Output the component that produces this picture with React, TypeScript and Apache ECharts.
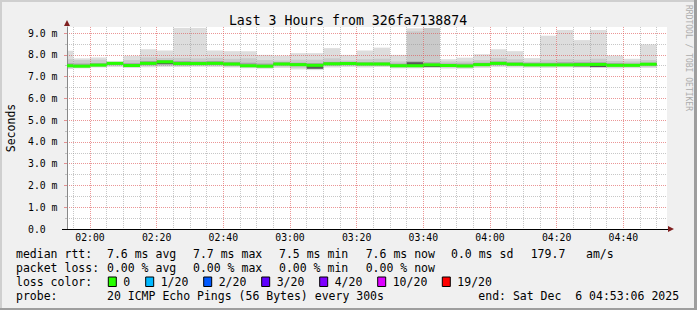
import React, { useEffect, useRef } from 'react';
import * as echarts from 'echarts';

// ---- data ----
const columnEnds = ['01:55','02:00','02:05','02:10','02:15','02:20','02:25','02:30','02:35','02:40','02:45','02:50','02:55',
  '03:00','03:05','03:10','03:15','03:20','03:25','03:30','03:35','03:40','03:45','03:50','03:55',
  '04:00','04:05','04:10','04:15','04:20','04:25','04:30','04:35','04:40','04:45','04:50'];

const medianRtt = [7.50,7.48,7.53,7.61,7.51,7.61,7.68,7.60,7.60,7.61,7.58,7.50,7.48,7.58,7.55,7.52,7.59,7.60,
  7.58,7.58,7.50,7.50,7.54,7.51,7.49,7.55,7.61,7.57,7.54,7.54,7.54,7.55,7.56,7.52,7.52,7.57];
const smokeMin = [7.35,7.38,7.42,7.44,7.40,7.43,7.45,7.44,7.45,7.44,7.42,7.38,7.36,7.40,7.33,7.30,7.42,7.44,
  7.42,7.44,7.38,7.38,7.40,7.37,7.36,7.40,7.44,7.42,7.41,7.40,7.42,7.41,7.40,7.38,7.39,7.40];
const smokeLo2 = [7.40,7.42,7.45,7.50,7.44,7.48,7.50,7.48,7.50,7.50,7.46,7.42,7.40,7.46,7.40,7.36,7.48,7.50,
  7.48,7.48,7.42,7.43,7.45,7.42,7.41,7.46,7.50,7.48,7.46,7.46,7.47,7.46,7.46,7.43,7.44,7.45];
const smokeLo4 = [7.44,7.44,7.48,7.54,7.47,7.53,7.54,7.53,7.54,7.54,7.51,7.45,7.43,7.51,7.48,7.40,7.52,7.54,
  7.52,7.52,7.45,7.46,7.49,7.46,7.44,7.50,7.54,7.52,7.50,7.50,7.51,7.50,7.48,7.47,7.47,7.51];
const smokeLo8 = [7.47,7.45,7.50,7.57,7.48,7.57,7.58,7.56,7.56,7.57,7.54,7.47,7.45,7.54,7.51,7.36,7.55,7.56,
  7.55,7.55,7.47,7.47,7.44,7.48,7.46,7.52,7.57,7.54,7.51,7.51,7.51,7.47,7.44,7.49,7.49,7.54];
const smokeHi8 = [7.54,7.52,7.57,7.65,7.55,7.65,7.70,7.64,7.64,7.65,7.62,7.54,7.52,7.62,7.59,7.56,7.63,7.64,
  7.62,7.62,7.54,7.66,7.58,7.55,7.53,7.59,7.65,7.61,7.58,7.58,7.58,7.59,7.60,7.56,7.56,7.61];
const smokeHi4 = [7.62,7.60,7.62,7.66,7.62,7.72,7.76,7.72,7.70,7.72,7.68,7.64,7.60,7.66,7.64,7.62,7.68,7.68,
  7.66,7.66,7.60,7.70,7.66,7.60,7.60,7.64,7.70,7.66,7.64,7.64,7.66,7.66,7.66,7.62,7.60,7.64];
const smokeHi2 = [7.80,7.76,7.78,7.68,7.76,7.88,7.86,7.86,7.84,7.86,7.82,7.84,7.76,7.74,7.78,7.78,7.84,7.74,
  7.80,7.82,7.70,9.08,9.23,7.70,7.70,7.76,7.86,7.80,7.68,7.78,7.80,7.78,7.82,7.72,7.70,7.76];
const smokeMax = [8.19,7.84,7.88,7.70,7.96,8.26,8.20,9.24,9.24,8.20,8.17,8.17,8.00,7.97,8.08,8.08,8.31,8.00,
  8.20,8.33,8.00,9.22,9.24,7.80,7.87,8.03,8.26,8.17,7.85,8.88,9.14,8.68,9.14,7.97,7.82,8.48];

const xMajorLabels = ['02:00','02:20','02:40','03:00','03:20','03:40','04:00','04:20','04:40'];
const yMajorTicks = [0,1,2,3,4,5,6,7,8,9];
const yMinorTicks = [0.5,1.5,2.5,3.5,4.5,5.5,6.5,7.5,8.5];

const rttStats = ['7.6 ms avg','7.7 ms max','7.5 ms min','7.6 ms now','0.0 ms sd','179.7','am/s'];
const lossStats = ['0.00 % avg','0.00 % max','0.00 % min','0.00 % now'];
const lossLabels = ['0','1/20','2/20','3/20','4/20','10/20','19/20'];
const lossColors = ['#26ff00','#00b8ff','#0059ff','#5e00ff','#7e00ff','#dd00ff','#ff0000'];

// ---- helpers / layout ----
const MONO = '"DejaVu Sans Mono", monospace';
const toMin = (s: string) => { const [h, m] = s.split(':').map(Number); return h * 60 + m; };
const fmt = (v: number) => {
  const h = Math.floor(v / 60), m = Math.round(v - h * 60);
  return `${String(h).padStart(2, '0')}:${String(m).padStart(2, '0')}`;
};
const X_START = toMin('01:53') + 6 / 60;
const X_END = X_START + 180;
const STEP = 5;
const Y_MAX = 9.28;
const GRID = { left: 67, top: 27, width: 600, height: 202 };

const majorX = xMajorLabels.map(toMin);
const minorX = columnEnds.map(toMin).filter((v) => majorX.indexOf(v) < 0);

const MGRID = 'rgba(222,80,80,0.6)';
const GRIDC = 'rgba(143,143,143,0.5)';

export default function App() {
  const ref = useRef<HTMLDivElement>(null);
  useEffect(() => {
    document.body.style.margin = '0';
    const chart = echarts.init(ref.current!, null, { renderer: 'svg' });
    const smokeData = columnEnds.map((t, i) => [toMin(t), smokeMin[i], smokeMax[i], smokeLo2[i], smokeHi2[i],
      smokeLo4[i], smokeHi4[i], smokeLo8[i], smokeHi8[i]]);
    const medData = columnEnds.map((t, i) => [toMin(t), medianRtt[i]]);
    const layers: [number, number, string][] = [[1, 2, '#dddddd'], [3, 4, '#cacaca'], [5, 6, '#a4a4a4'], [7, 8, '#585858']];

    const legendX = [107, 193, 279, 365.7, 451, 530.7, 586];
    const boxX = [108.3, 145.7, 203.7, 261.7, 319.7, 377.7, 442.3];
    const rows = [254.3, 268.3, 281.7, 296.3];
    const txt = (x: number, y: number, text: string, extra: any = {}) => ({
      type: 'text', x, y, silent: true,
      style: { text, fill: '#000', font: `11.5px ${MONO}`, align: 'left', verticalAlign: 'middle', ...extra },
    });
    const graphics: any[] = [
      { type: 'rect', shape: { x: 0, y: 0, width: 697, height: 2 }, style: { fill: '#cfcfcf' } },
      { type: 'rect', shape: { x: 0, y: 0, width: 2, height: 310 }, style: { fill: '#cfcfcf' } },
      { type: 'rect', shape: { x: 0, y: 308, width: 697, height: 2 }, style: { fill: '#9e9e9e' } },
      { type: 'rect', shape: { x: 694, y: 0, width: 3, height: 310 }, style: { fill: '#9e9e9e' } },
      { type: 'text', x: 348, y: 20, style: { text: 'Last 3 Hours from 326fa7138874', fill: '#000', font: `13.2px ${MONO}`, align: 'center', verticalAlign: 'middle' } },
      { type: 'text', x: 688, y: 5, rotation: -Math.PI / 2, style: { text: 'RRDTOOL / TOBI OETIKER', fill: '#acacac', font: `8px ${MONO}`, align: 'left', verticalAlign: 'middle' } },
      { type: 'polygon', shape: { points: [[64, 26], [70, 26], [67, 20]] }, style: { fill: '#7f1f1f' }, z: 10 },
      { type: 'polygon', shape: { points: [[668, 226], [668, 232], [674, 229]] }, style: { fill: '#7f1f1f' }, z: 10 },
      { type: 'line', shape: { x1: 62, y1: 229.5, x2: 668, y2: 229.5 }, style: { stroke: '#000', lineWidth: 1 }, z: 9 },
      txt(16, rows[0], 'median rtt:'),
      ...rttStats.map((s, i) => txt(legendX[i], rows[0], s)),
      txt(16, rows[1], 'packet loss:'),
      ...lossStats.map((s, i) => txt(legendX[i], rows[1], s)),
      txt(16, rows[2], 'loss color:'),
      ...lossLabels.map((s, i) => ({ type: 'rect', shape: { x: boxX[i], y: 277, width: 8, height: 9.5 }, style: { fill: lossColors[i], stroke: '#000', lineWidth: 1 } })),
      ...lossLabels.map((s, i) => txt(boxX[i] + 15, rows[2], s)),
      txt(16, rows[3], 'probe:'),
      txt(107, rows[3], '20 ICMP Echo Pings (56 Bytes) every 300s'),
      txt(478.3, rows[3], 'end: Sat Dec  6 04:53:06 2025'),
    ];

    chart.setOption({
      animation: false,
      backgroundColor: '#f0f0f0',
      grid: { ...GRID, show: true, backgroundColor: '#ffffff', borderWidth: 0, containLabel: false, outerBoundsMode: 'none' },
      xAxis: [
        {
          type: 'value', min: X_START, max: X_END, position: 'bottom', z: 3,
          axisLine: { show: false },
          axisTick: { show: false, customValues: majorX },
          axisLabel: { customValues: majorX, formatter: (v: number) => fmt(v), fontFamily: MONO, fontSize: 9.8, color: '#000', margin: 3 },
          splitLine: { show: true, lineStyle: { color: MGRID, type: [1, 1], width: 1 } },
        },
        {
          type: 'value', min: X_START, max: X_END, position: 'bottom', z: 3,
          axisLine: { show: false },
          axisTick: { show: false, customValues: minorX },
          axisLabel: { show: false, customValues: minorX },
          splitLine: { show: true, lineStyle: { color: GRIDC, type: [1, 1], width: 1 } },
        },
      ],
      yAxis: [
        {
          type: 'value', min: 0, max: Y_MAX, position: 'left', z: 3,
          name: 'Seconds', nameLocation: 'middle', nameGap: 50, nameRotate: 90,
          nameTextStyle: { fontFamily: MONO, fontSize: 11.5, color: '#000' },
          axisLine: { show: true, lineStyle: { color: '#888888', width: 1 } },
          axisTick: { show: true, length: 3, customValues: yMajorTicks, lineStyle: { color: MGRID } },
          axisLabel: { customValues: yMajorTicks, align: 'left', margin: 39, fontFamily: MONO, fontSize: 9.8, color: '#000',
            formatter: (v: number) => (v === 0 ? '0.0' : `${v.toFixed(1)} m`) },
          splitLine: { show: true, lineStyle: { color: MGRID, type: [1, 1], width: 1 } },
        },
        {
          type: 'value', min: 0, max: Y_MAX, position: 'left', z: 3,
          axisLine: { show: false },
          axisTick: { show: true, length: 2, customValues: yMinorTicks, lineStyle: { color: GRIDC } },
          axisLabel: { show: false, customValues: yMinorTicks },
          splitLine: { show: true, lineStyle: { color: GRIDC, type: [1, 1], width: 1 } },
        },
      ],
      series: [
        {
          type: 'custom', name: 'smoke', xAxisIndex: 0, yAxisIndex: 0, clip: true, z: 2, silent: true,
          data: smokeData,
          renderItem: (params: any, api: any) => {
            const end = api.value(0);
            const start = end - STEP;
            return {
              type: 'group',
              children: layers.map(([lo, hi, color]) => {
                const p0 = api.coord([start, api.value(hi)]);
                const p1 = api.coord([end, api.value(lo)]);
                return { type: 'rect', shape: { x: p0[0], y: p0[1], width: p1[0] - p0[0], height: p1[1] - p0[1] }, style: { fill: color } };
              }),
            };
          },
        },
        {
          type: 'custom', name: 'median', xAxisIndex: 0, yAxisIndex: 0, clip: true, z: 5, silent: true,
          data: medData,
          renderItem: (params: any, api: any) => {
            const end = api.value(0);
            const p0 = api.coord([end - STEP, api.value(1)]);
            const p1 = api.coord([end, api.value(1)]);
            return { type: 'rect', shape: { x: p0[0], y: p0[1] - 1.5, width: p1[0] - p0[0], height: 3 }, style: { fill: lossColors[0] } };
          },
        },
      ],
      graphic: graphics,
    });
    return () => chart.dispose();
  }, []);
  return <div ref={ref} style={{ position: 'fixed', left: 0, top: 0, width: 697, height: 310 }} />;
}
